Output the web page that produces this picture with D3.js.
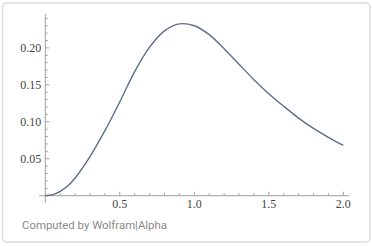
<!DOCTYPE html>
<html>
<head>
<meta charset="utf-8">
<script src="https://cdn.jsdelivr.net/npm/d3@7"></script>
<style>
  html, body { margin: 0; padding: 0; background: #fff; }
  svg { display: block; }
</style>
</head>
<body>
<svg id="chart" width="372" height="246"></svg>
<script>
// Curve values
const xValues = [0, 0.05, 0.1, 0.15, 0.2, 0.3, 0.4, 0.5, 0.6, 0.7, 0.8, 0.9, 1.0, 1.1, 1.2, 1.3, 1.4, 1.5, 1.6, 1.7, 1.8, 1.9, 2.0];
const yValues = [0, 0.0015, 0.006, 0.013, 0.024, 0.053, 0.088, 0.127, 0.168, 0.201, 0.223, 0.2325, 0.230, 0.218, 0.199, 0.178, 0.157, 0.138, 0.121, 0.105, 0.091, 0.079, 0.068];

const xTickLabels = ["0.5", "1.0", "1.5", "2.0"];
const yTickLabels = ["0.05", "0.10", "0.15", "0.20"];

const svg = d3.select("#chart");

// card frame
svg.append("rect")
    .attr("x", 2.5).attr("y", 3)
    .attr("width", 367.5).attr("height", 239)
    .attr("rx", 4)
    .attr("fill", "#fff")
    .attr("stroke", "#dcdcdc")
    .attr("stroke-width", 1.5);

const x = d3.scaleLinear().domain([0, 2]).range([45.3, 343.3]);
const y = d3.scaleLinear().domain([0, 0.2]).range([195.7, 47.9]);

const axisColor = "#a0a0a0";
const g = svg.append("g");

// axes lines
g.append("line")
    .attr("x1", x(-0.042)).attr("x2", x(2.038))
    .attr("y1", y(0)).attr("y2", y(0))
    .attr("stroke", axisColor).attr("stroke-width", 1);
g.append("line")
    .attr("x1", x(0)).attr("x2", x(0))
    .attr("y1", y(-0.01)).attr("y2", y(0.246))
    .attr("stroke", axisColor).attr("stroke-width", 1);

// x ticks (minor every 0.1, major every 0.5)
d3.range(1, 21).forEach(i => {
    const v = i / 10;
    const major = i % 5 === 0;
    g.append("line")
        .attr("x1", x(v)).attr("x2", x(v))
        .attr("y1", y(0)).attr("y2", y(0) - (major ? 4 : 2.5))
        .attr("stroke", axisColor).attr("stroke-width", 1);
});

// y ticks (minor every 0.01, major every 0.05)
d3.range(1, 25).forEach(i => {
    const v = i / 100;
    const major = i % 5 === 0;
    g.append("line")
        .attr("x1", x(0)).attr("x2", x(0) + (major ? 4 : 2.5))
        .attr("y1", y(v)).attr("y2", y(v))
        .attr("stroke", axisColor).attr("stroke-width", 1);
});

// tick labels
g.selectAll(".xl").data(xTickLabels).enter().append("text")
    .attr("x", d => x(+d))
    .attr("y", y(0) + 12)
    .attr("text-anchor", "middle")
    .attr("font-family", "Liberation Serif, serif")
    .attr("font-size", 12)
    .attr("fill", "#444")
    .text(d => d);

g.selectAll(".yl").data(yTickLabels).enter().append("text")
    .attr("x", x(0) - 4)
    .attr("y", d => y(+d) + 4)
    .attr("text-anchor", "end")
    .attr("font-family", "Liberation Serif, serif")
    .attr("font-size", 12)
    .attr("fill", "#444")
    .text(d => d);

// the curve
const line = d3.line()
    .x(d => x(d[0]))
    .y(d => y(d[1]))
    .curve(d3.curveCatmullRom.alpha(0.5));

g.append("path")
    .datum(xValues.map((v, i) => [v, yValues[i]]))
    .attr("d", line)
    .attr("fill", "none")
    .attr("stroke", "#5d6f88")
    .attr("stroke-width", 1.4);

// footer
svg.append("text")
    .attr("x", 22)
    .attr("y", 229)
    .attr("font-family", "Roboto, sans-serif")
    .attr("font-size", 11.4)
    .attr("fill", "#8a8a8a")
    .text("Computed by Wolfram|Alpha");
</script>
</body>
</html>
